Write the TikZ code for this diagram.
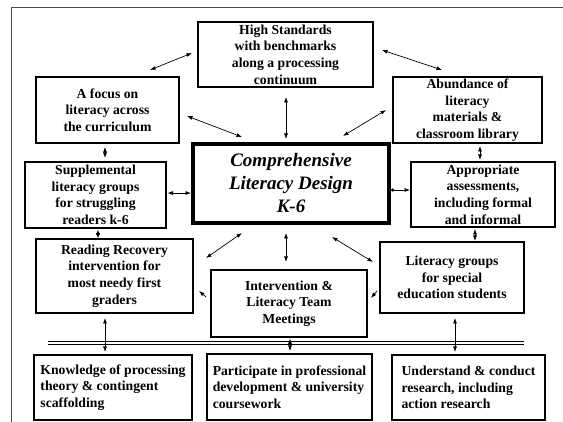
\documentclass[tikz,border=0pt]{standalone}
\usepackage{fontspec}
\setmainfont{Liberation Serif}
\usetikzlibrary{arrows.meta}
\tikzset{
  cl/box/.style={draw, line width=1.5pt, outer sep=0pt, inner sep=0pt, align=center,
    font=\fontsize{13.7pt}{16.6pt}\selectfont\bfseries},
  cl/core/.style={cl/box, line width=3.2pt, font=\fontsize{19pt}{23pt}\selectfont\bfseries\itshape},
  cl/task/.style={cl/box, align=left},
  cl/arr/.style={{Latex[length=5.5pt,width=4pt]}-{Latex[length=5.5pt,width=4pt]}, line width=0.7pt},
  cl/tip/.style={-{Latex[length=5.5pt,width=4pt]}, line width=0.7pt},
  cl/out/.style={{Circle[length=3.2pt]}-{Latex[length=5.5pt,width=4pt]}, line width=0.7pt},
  cl/bar/.style={double, line width=1.3pt, double distance=1.6pt},
  cl/frame/.style={black!70, line width=0.9pt}
}
\begin{document}
\begin{tikzpicture}[x=1pt, y=-1pt]
  \useasboundingbox (0,0) rectangle (563,422);
  \draw[cl/frame] (563,7) -- (11,7) -- (11,422);

  \node[cl/box, minimum width=175pt, minimum height=65pt] (stds) at (285.5,54.5) {High Standards\\with benchmarks\\along a processing\\continuum};
  \node[cl/box, minimum width=143pt, minimum height=66pt] (focus) at (107.5,110) {A focus on\\literacy across\\the curriculum};
  \node[cl/box, minimum width=149pt, minimum height=66pt] (abund) at (467.5,110) {Abundance of\\literacy\\materials \&\\classroom library};
  \node[cl/core, minimum width=196pt, minimum height=79pt] (core) at (291,183.5) {Comprehensive\\Literacy Design\\K-6};
  \node[cl/box, minimum width=141pt, minimum height=66pt] (suppl) at (95.5,195) {Supplemental\\literacy groups\\for struggling\\readers k-6};
  \node[cl/box, minimum width=144pt, minimum height=65pt] (assess) at (483,194.5) {Appropriate\\assessments,\\including formal\\and informal};
  \node[cl/box, minimum width=157pt, minimum height=74pt] (recov) at (114.5,276) {Reading Recovery\\intervention for\\most needy first\\graders};
  \node[cl/box, minimum width=156pt, minimum height=67pt] (team) at (289,303.5) {Intervention \&\\Literacy Team\\Meetings};
  \node[cl/box, minimum width=144pt, minimum height=71pt] (special) at (452,277.5) {Literacy groups\\for special\\education students};
  \node[cl/task, minimum width=158pt, minimum height=65pt] (theory) at (113,387.5) {Knowledge of processing\\theory \& contingent\\scaffolding};
  \node[cl/task, minimum width=165pt, minimum height=66pt] (profdev) at (289.5,387) {Participate in professional\\development \& university\\coursework};
  \node[cl/task, minimum width=153pt, minimum height=65pt] (research) at (468.5,387.5) {Understand \& conduct\\research, including\\action research};

  \coordinate (barL) at (48,343);
  \coordinate (barR) at (524,343);
  \draw[cl/bar] (barL) -- (barR);

  \draw[cl/arr] ([shift={(-29,-7)}]focus.north east) -- ([shift={(-6,-1.5)}]stds.west);
  \draw[cl/arr] ([shift={(9,-4.5)}]stds.east) -- ([shift={(-25.5,-7)}]abund.north);
  \draw[cl/arr] ([shift={(0.5,10)}]stds.south) -- ([shift={(-5,-5)}]core.north);
  \draw[cl/arr] ([shift={(8,6)}]focus.east) -- ([shift={(49,-7)}]core.north west);
  \draw[cl/arr] ([shift={(-7,0)}]abund.west) -- ([shift={(-46,-8)}]core.north east);
  \draw[cl/arr] ([shift={(-2.5,4)}]focus.south) -- ([shift={(9.5,-4)}]suppl.north);
  \draw[cl/arr] ([shift={(2.5,1.5)}]suppl.south) -- ([shift={(-16.5,-0.5)}]recov.north);
  \draw[cl/arr] ([shift={(1.5,-2)}]suppl.east) -- ([shift={(-2,9.5)}]core.west);
  \draw[cl/out] ([shift={(2,6.5)}]core.east) -- ([shift={(-1,-4.5)}]assess.west);
  \draw[cl/arr] ([shift={(12.5,3)}]abund.south) -- ([shift={(-3,-2)}]assess.north);
  \draw[cl/arr] ([shift={(-8,2)}]assess.south) -- ([shift={(23,-1)}]special.north);
  \draw[cl/arr] ([shift={(49,10)}]core.south west) -- ([shift={(13,-18)}]recov.east);
  \draw[cl/arr] ([shift={(-5,10)}]core.south) -- ([shift={(-3,-8)}]team.north);
  \draw[cl/arr] ([shift={(-57,14)}]core.south east) -- ([shift={(-7,-15.5)}]special.west);
  \draw[cl/tip] ([shift={(-5,-6.5)}]team.west) -- ([shift={(6,15)}]recov.east);
  \draw[cl/tip] ([shift={(-3,13.5)}]special.west) -- ([shift={(4,-5.5)}]team.east);
  \draw[cl/arr] ([shift={(-9.5,5)}]recov.south) -- ([shift={(-8,-3)}]theory.north);
  \draw[cl/arr] ([shift={(1,1.5)}]team.south) -- ([shift={(0.5,-3)}]profdev.north);
  \draw[cl/arr] ([shift={(3,5)}]special.south) -- ([shift={(-13.5,-3)}]research.north);
\end{tikzpicture}
\end{document}
